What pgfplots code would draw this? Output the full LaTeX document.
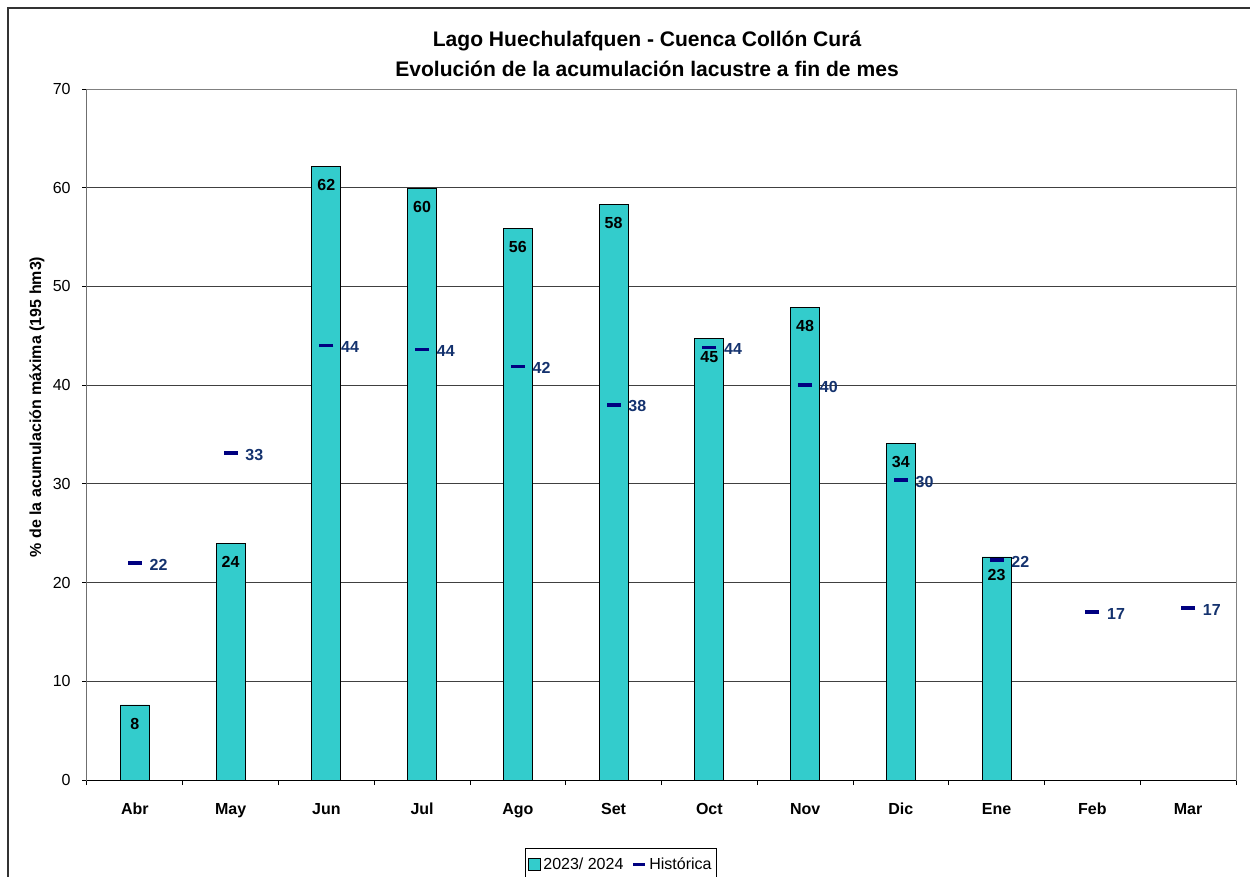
\documentclass[border=0pt]{standalone}
\usepackage{fontspec}
\setmainfont{Liberation Sans}
\usepackage{pgfplots}
\pgfplotsset{compat=1.18}
\definecolor{barcol}{HTML}{33CCCC}
\definecolor{histcol}{HTML}{000080}
\definecolor{histlab}{RGB}{20,50,110}
\begin{document}
\begin{tikzpicture}
\path[use as bounding box] (0,0) rectangle (937.5pt,-657pt);
\draw[line width=1.1pt, black!80] (6pt,-700pt) -- (6pt,-6pt) -- (1000pt,-6pt);
\begin{axis}[
  at={(65.25pt,-585pt)}, anchor=south west,
  scale only axis, width=861.75pt, height=518.25pt,
  xmin=-0.5, xmax=11.5, ymin=0, ymax=70,
  ytick={0,10,...,70},
  xtick={0,...,11},
  xticklabels={Abr,May,Jun,Jul,Ago,Set,Oct,Nov,Dic,Ene,Feb,Mar},
  minor xtick={-0.5,0.5,...,11.5},
  major x tick style={draw=none},
  xtick pos=lower, ytick pos=left,
  tick align=outside,
  major tick length=3.75pt, minor tick length=3.75pt,
  every tick/.style={black, line width=0.75pt},
  ymajorgrids, major grid style={black!75, line width=0.75pt},
  axis line style={black!50, line width=0.75pt},
  /pgf/number format/assume math mode=true,
  xticklabel style={font=\bfseries\fontsize{12}{14}\selectfont, yshift=-10pt},
  yticklabel style={font=\fontsize{12}{14}\selectfont, xshift=-5pt},
  ylabel={\% de la acumulación máxima (195 hm3)},
  ylabel style={font=\bfseries\fontsize{12}{14}\selectfont, at={(axis description cs:-0.0435,0.5398)}, anchor=center},
  title={Lago Huechulafquen - Cuenca Collón Curá\\Evolución de la acumulación lacustre a fin de mes},
  title style={font=\bfseries\fontsize{15.8}{22.5}\selectfont, align=center, at={(axis description cs:0.4874,1.039)}, anchor=center},
  legend style={at={(axis description cs:0.4648,-0.0984)}, anchor=north, draw=black, line width=0.75pt,
    font=\fontsize{12}{14}\selectfont, inner xsep=2pt, inner ysep=5pt, row sep=0pt},
  legend columns=2,
  legend cell align=left,
  /tikz/every even column/.append style={column sep=4pt},
]
\addplot[ybar, bar width=21.75pt, fill=barcol, draw=black, line width=0.6pt,
  nodes near coords={\pgfmathprintnumber[fixed,precision=0]{\pgfplotspointmeta}},
  every node near coord/.append style={font=\bfseries\fontsize{12}{14}\selectfont, text=black, anchor=center, yshift=-13.9pt},
  legend image code/.code={\draw[fill=barcol, draw=black, line width=0.6pt] (0pt,-4.5pt) rectangle (9pt,4.5pt);}]
coordinates {(0,7.6) (1,24.0) (2,62.2) (3,59.9) (4,55.9) (5,58.3) (6,44.7) (7,47.9) (8,34.1) (9,22.6)};
\addlegendentry{2023/ 2024}
\addplot[only marks, mark=-, mark size=5.25pt, mark options={draw=histcol, line width=2.7pt},
  nodes near coords={\pgfmathprintnumber[fixed,precision=0]{\pgfplotspointmeta}},
  every node near coord/.append style={font=\bfseries\fontsize{12}{14}\selectfont, text=histlab, anchor=west, inner sep=0pt, xshift=9.75pt, yshift=-1.2pt},
  legend image code/.code={\draw[histcol, line width=2.4pt] (0pt,0pt) -- (9pt,0pt);}]
coordinates {(0,22.0) (1,33.1) (2,44.0) (3,43.6) (4,41.9) (5,38.0) (6,43.8) (7,40.0) (8,30.4) (9,22.3) (10,17.0) (11,17.4)};
\addlegendentry{Histórica}
\draw[black, line width=0.75pt] (rel axis cs:0,1) -- (rel axis cs:0,0) -- (rel axis cs:1,0);
\end{axis}
\end{tikzpicture}
\end{document}
